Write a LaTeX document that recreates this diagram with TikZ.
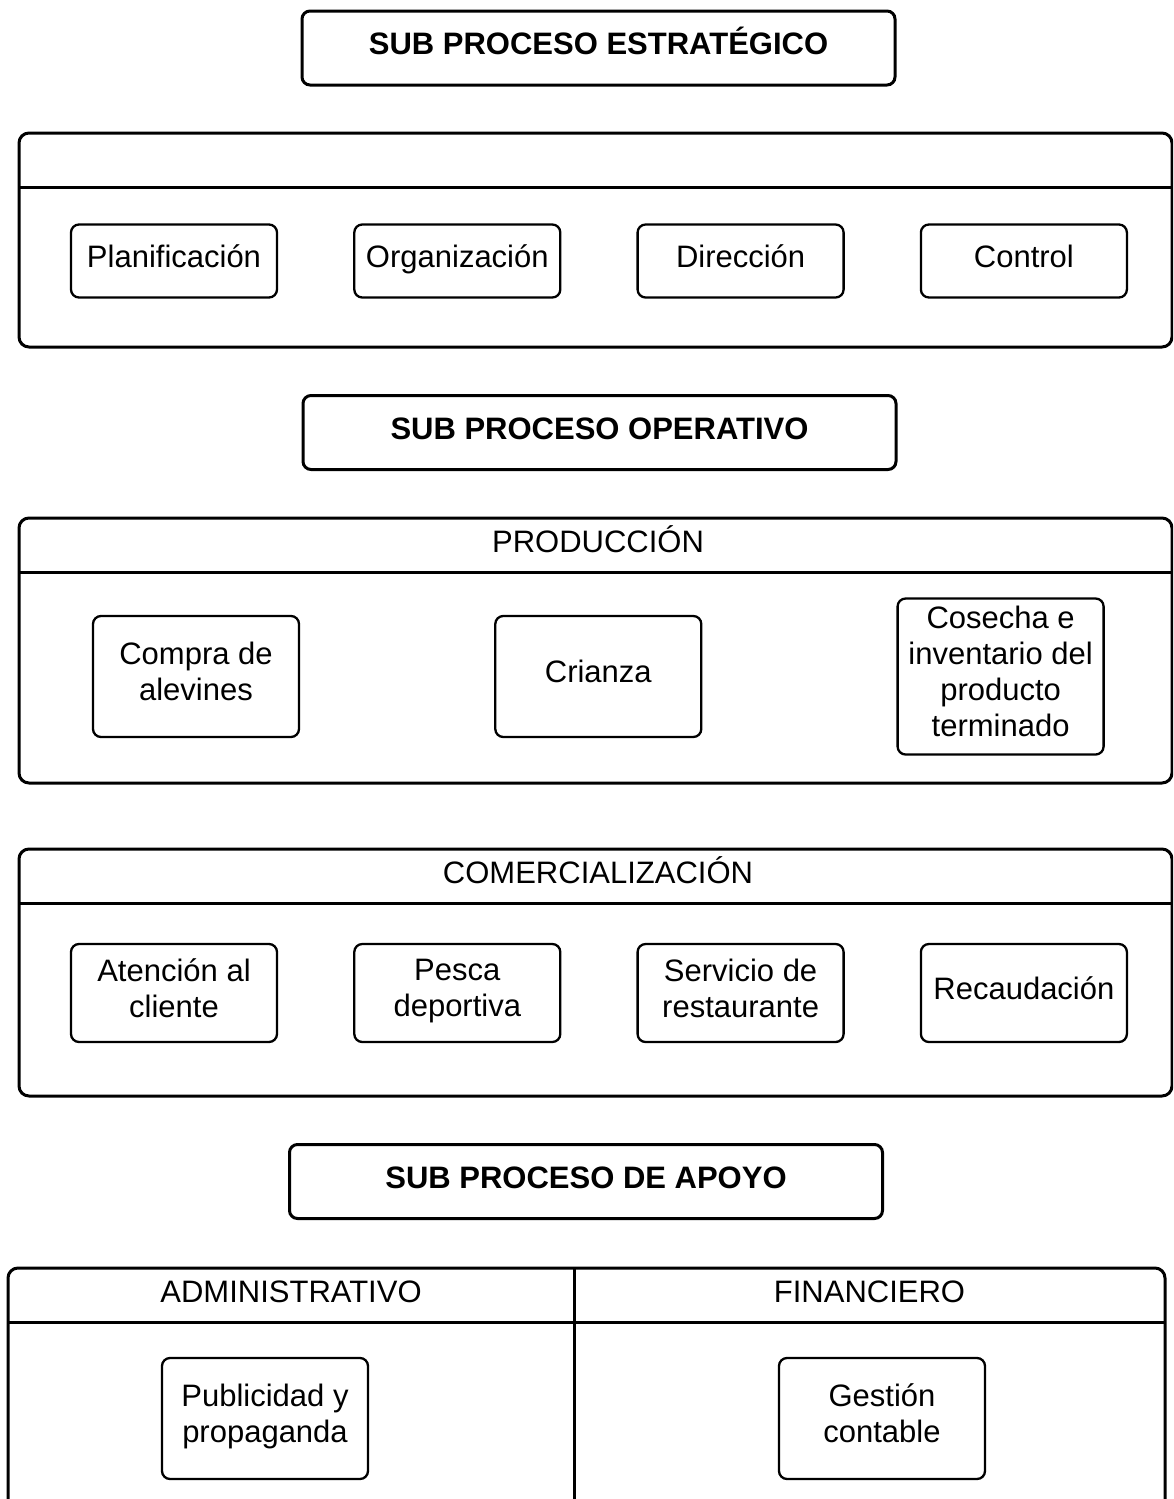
\documentclass[tikz,border=0pt]{standalone}
\usepackage{fontspec}
\setmainfont{Liberation Sans}
\usetikzlibrary{positioning}

\begin{document}
\begin{tikzpicture}[
x=0.5pt, y=-0.5pt,
node distance=37.5pt,
title/.style={draw, line width=1.5pt, rounded corners=4pt, minimum width=296.5pt, minimum height=37pt, font=\fontsize{15.5}{18}\selectfont\bfseries, text height=11.1pt, text depth=4.5pt},
frame/.style={draw, line width=1.5pt, rounded corners=5pt, anchor=north west, inner sep=0pt, outer sep=0pt},
band/.style={line width=1.5pt},
head/.style={font=\fontsize{15.5}{18}\selectfont, text height=11.1pt, text depth=0pt},
item/.style={draw, line width=1.15pt, rounded corners=4pt, minimum width=103pt, minimum height=36.5pt, align=center, font=\fontsize{15.5}{18}\selectfont},
oneline/.style={text height=11.1pt, text depth=5pt},
multiline/.style={text depth=5pt}
]
\useasboundingbox (0,0) rectangle (1173,1499);
\clip (0,0) rectangle (1173,1499);

% estrategico
\node[title] (estr) at (598.5,48) {SUB PROCESO ESTRATÉGICO};
\node[frame, minimum width=576.5pt, minimum height=107pt] (estrframe) at (19,133) {};
\draw[band] ([yshift=-27pt]estrframe.north west) -- ([yshift=-27pt]estrframe.north east);
\node[item, oneline] (plan) at (174,261) {Planificación};
\node[item, oneline, right=of plan] (org) {Organización};
\node[item, oneline, right=of org] (dir) {Dirección};
\node[item, oneline, right=of dir] (ctrl) {Control};

% operativo
\node[title] (oper) at (599.5,432.5) {SUB PROCESO OPERATIVO};
\node[frame, minimum width=576.5pt, minimum height=132.5pt] (prodframe) at (19,518) {};
\draw[band] ([yshift=-27pt]prodframe.north west) -- ([yshift=-27pt]prodframe.north east);
\node[head] (prodhead) at (598,541) {PRODUCCIÓN};
\node[item, multiline, minimum height=60.5pt] (compra) at (196,676.5) {Compra de\\alevines};
\node[item, oneline, minimum height=60.5pt, right=97pt of compra] (crianza) {Crianza};
\node[item, multiline, minimum height=78pt, right=97pt of crianza] (cosecha) {Cosecha e\\inventario del\\producto\\terminado};

\node[frame, minimum width=576.5pt, minimum height=123.5pt] (comframe) at (19,849) {};
\draw[band] ([yshift=-27pt]comframe.north west) -- ([yshift=-27pt]comframe.north east);
\node[head] (comhead) at (598,872) {COMERCIALIZACIÓN};
\node[item, multiline, minimum height=49pt] (atencion) at (174,993) {Atención al\\cliente};
\node[item, multiline, minimum height=49pt, right=of atencion] (pesca) {Pesca\\deportiva};
\node[item, multiline, minimum height=49pt, right=of pesca] (servicio) {Servicio de\\restaurante};
\node[item, oneline, minimum height=49pt, right=of servicio] (recaudo) {Recaudación};

% apoyo
\node[title] (apoyo) at (586,1181.5) {SUB PROCESO DE APOYO};
\node[frame, minimum width=578.5pt, minimum height=135pt] (apoyoframe) at (8,1268) {};
\draw[band] ([yshift=-27pt]apoyoframe.north west) -- ([yshift=-27pt]apoyoframe.north east);
\coordinate (split) at (574,1268);
\draw[band] (split) -- (split |- apoyoframe.south);
\node[head] (admhead) at (291,1291) {ADMINISTRATIVO};
\node[head] (finhead) at (869.5,1291) {FINANCIERO};
\node[item, multiline, minimum height=60.5pt] (publi) at (265,1418.5) {Publicidad y\\propaganda};
\node[item, multiline, minimum height=60.5pt] (gestion) at (882,1418.5) {Gestión\\contable};
\end{tikzpicture}
\end{document}
